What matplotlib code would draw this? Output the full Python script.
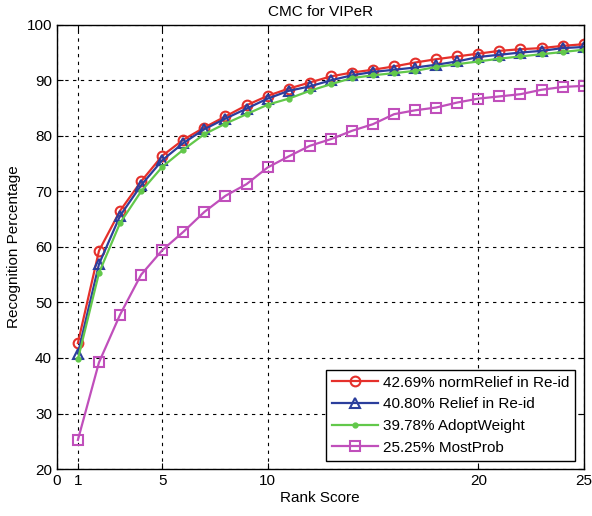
import matplotlib
matplotlib.use('Agg')
import matplotlib.pyplot as plt
import numpy as np

plt.rcParams['font.family'] = ['Liberation Sans', 'DejaVu Sans']

ranks = np.arange(1, 26)
norm_relief = [42.69, 59.3, 66.5, 71.8, 76.4, 79.3, 81.5, 83.5, 85.5, 87.2, 88.5, 89.6,
               90.7, 91.4, 91.9, 92.5, 93.2, 93.8, 94.3, 94.8, 95.3, 95.6, 95.8, 96.2, 96.5]
relief = [40.80, 56.9, 65.6, 71.1, 75.6, 78.7, 81.2, 83.1, 84.9, 86.7, 88.1, 88.9,
          90.0, 90.9, 91.5, 91.9, 92.3, 92.8, 93.4, 94.2, 94.6, 95.0, 95.3, 95.8, 96.0]
adopt_weight = [39.78, 55.3, 64.3, 70.0, 74.4, 77.5, 80.3, 82.2, 83.9, 85.6, 86.7, 88.1,
                89.3, 90.4, 90.9, 91.3, 91.7, 92.4, 92.9, 93.4, 93.9, 94.3, 94.7, 95.1, 95.5]
most_prob = [25.25, 39.2, 47.8, 55.0, 59.4, 62.7, 66.3, 69.2, 71.3, 74.3, 76.3, 78.2,
             79.4, 80.9, 82.1, 83.9, 84.6, 85.1, 86.0, 86.7, 87.1, 87.5, 88.3, 88.8, 89.0]

labels = ['42.69% normRelief in Re-id', '40.80% Relief in Re-id',
          '39.78% AdoptWeight', '25.25% MostProb']
xticks = [0, 1, 5, 10, 20, 25]
yticks = [20, 30, 40, 50, 60, 70, 80, 90, 100]

fig = plt.figure(figsize=(5.92, 5.16), dpi=100)
ax = fig.add_axes([0.096, 0.091, 0.890, 0.861])

ax.plot(ranks, norm_relief, color='#e5302b', lw=1.6, marker='o', ms=7,
        mfc='none', mew=1.5, label=labels[0])
ax.plot(ranks, relief, color='#2b3e9c', lw=1.6, marker='^', ms=7,
        mfc='none', mew=1.5, label=labels[1])
ax.plot(ranks, adopt_weight, color='#62c84a', lw=1.6, marker='.', ms=7,
        label=labels[2])
ax.plot(ranks, most_prob, color='#c04fbb', lw=1.6, marker='s', ms=7,
        mfc='none', mew=1.5, label=labels[3])

ax.set_xlim(0, 25)
ax.set_ylim(20, 100)
ax.set_xticks(xticks)
ax.set_yticks(yticks)
ax.tick_params(direction='in', labelsize=11, length=4, top=True, right=True)
ax.grid(True, color='black', ls=(0, (3, 4)), lw=0.8)
for sp in ax.spines.values():
    sp.set_linewidth(1.0)

ax.set_title('CMC for VIPeR', fontsize=11)
ax.set_xlabel('Rank Score', fontsize=11, labelpad=2)
ax.set_ylabel('Recognition Percentage', fontsize=11)

leg = ax.legend(loc='lower right', fontsize=11, fancybox=False, framealpha=1,
                edgecolor='black', handlelength=3.0, handletextpad=0.3,
                borderaxespad=0.55)
leg.get_frame().set_linewidth(1.0)

fig.savefig('out.png', dpi=100)
